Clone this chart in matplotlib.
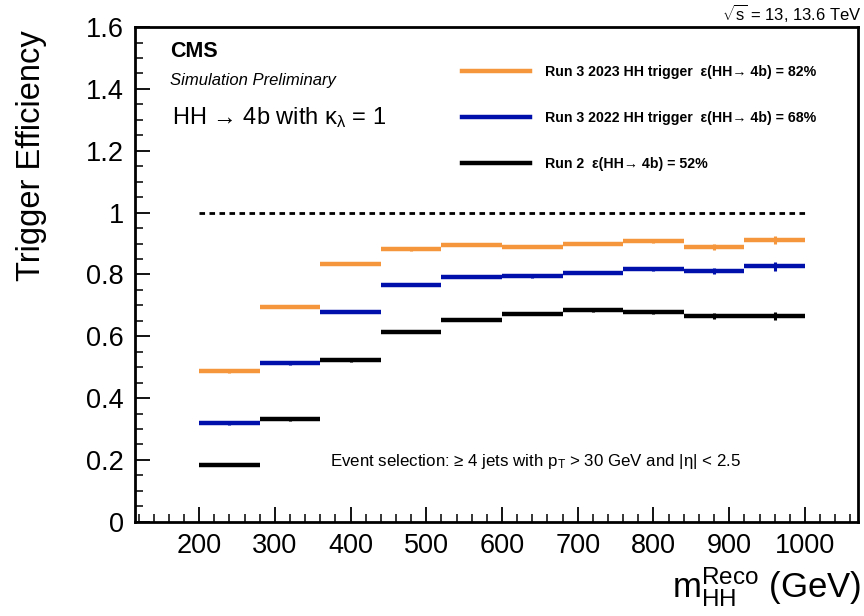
import matplotlib
matplotlib.use('Agg')
import matplotlib.pyplot as plt
import numpy as np
from matplotlib.lines import Line2D
from matplotlib.ticker import MultipleLocator

plt.rcParams['font.family'] = ['Liberation Sans', 'DejaVu Sans']
plt.rcParams['mathtext.fontset'] = 'custom'
plt.rcParams['mathtext.rm'] = 'Liberation Sans'
plt.rcParams['mathtext.it'] = 'Liberation Sans:italic'
plt.rcParams['mathtext.bf'] = 'Liberation Sans:bold'

# binning in m_HH (GeV)
bin_edges = [200, 280, 360, 440, 520, 600, 680, 760, 840, 920, 1000]

# efficiencies
eff_2023 = [0.488, 0.695, 0.835, 0.881, 0.896, 0.890, 0.899, 0.907, 0.890, 0.912]
err_2023 = [0.006, 0.004, 0.004, 0.004, 0.004, 0.004, 0.005, 0.006, 0.010, 0.012]
eff_2022 = [0.318, 0.513, 0.678, 0.767, 0.793, 0.794, 0.806, 0.818, 0.810, 0.826]
err_2022 = [0.006, 0.005, 0.004, 0.004, 0.004, 0.005, 0.006, 0.007, 0.010, 0.015]
eff_run2 = [0.183, 0.331, 0.522, 0.615, 0.654, 0.673, 0.685, 0.678, 0.666, 0.666]
err_run2 = [0.004, 0.004, 0.004, 0.004, 0.004, 0.005, 0.006, 0.007, 0.009, 0.012]

labels = ['Run 3 2023 HH trigger  ε(HH→ 4b) = 82%',
          'Run 3 2022 HH trigger  ε(HH→ 4b) = 68%',
          'Run 2  ε(HH→ 4b) = 52%']
colors = ['#f5963c', '#0010aa', '#000000']

fig = plt.figure(figsize=(8.64, 6.16), dpi=100)
ax = fig.add_axes([0.156, 0.153, 0.837, 0.803])

edges = np.array(bin_edges)
centers = 0.5 * (edges[:-1] + edges[1:])
series = [(eff_2023, err_2023), (eff_2022, err_2022), (eff_run2, err_run2)]
for (vals, errs), c in zip(series, colors):
    ax.hlines(vals, edges[:-1], edges[1:], colors=c, lw=3.2)
    ax.errorbar(centers, vals, yerr=errs, fmt='none', ecolor=c, elinewidth=2.2, capsize=0)

ax.hlines(1.0, edges[0], edges[-1], colors='black', lw=2, linestyles=(0, (2.0, 1.6)))

ax.set_xlim(115, 1070)
ax.set_ylim(0, 1.6)
ax.xaxis.set_minor_locator(MultipleLocator(20))
ax.yaxis.set_minor_locator(MultipleLocator(0.05))
ax.set_xticks([200, 300, 400, 500, 600, 700, 800, 900, 1000])
ax.set_yticks([0, 0.2, 0.4, 0.6, 0.8, 1.0, 1.2, 1.4, 1.6])
ax.set_yticklabels(['0', '0.2', '0.4', '0.6', '0.8', '1', '1.2', '1.4', '1.6'])
ax.tick_params(which='both', direction='in', top=False, right=False, labelsize=19.5)
ax.tick_params(which='major', length=11, width=1.3, pad=8)
ax.tick_params(which='minor', length=5.5, width=1.1)
for s in ax.spines.values():
    s.set_linewidth(2)

ax.set_ylabel('Trigger Efficiency', fontsize=23.5, loc='top')
ax.yaxis.set_label_coords(-0.122, 0.994)
ax.set_xlabel(r'm$_{\mathrm{HH}}^{\mathrm{Reco}}$ (GeV)', fontsize=25, loc='right')
ax.xaxis.set_label_coords(1.005, -0.088)

ax.text(0.049, 0.95, 'CMS', transform=ax.transAxes, fontsize=15.5, fontweight='bold', va='center')
ax.text(0.049, 0.893, 'Simulation Preliminary', transform=ax.transAxes, fontsize=12,
        style='italic', va='center')
ax.text(0.052, 0.818, r'HH → 4b with κ$_{\mathrm{λ}}$ = 1', transform=ax.transAxes,
        fontsize=17, va='center')
ax.text(0.27, 0.121, r'Event selection: ≥ 4 jets with p$_{\mathrm{T}}$ > 30 GeV and |η| < 2.5',
        transform=ax.transAxes, fontsize=12.2, va='center')
fig.text(0.998, 0.996, r'$\sqrt{\mathrm{s}}$ = 13, 13.6 TeV', fontsize=12, ha='right', va='top')

handles = [Line2D([], [], color=c, lw=3.2) for c in colors]
leg = ax.legend(handles, labels, loc='upper left', bbox_to_anchor=(0.452, 0.923),
                frameon=False, borderpad=0, borderaxespad=0, handlelength=4.8,
                handletextpad=1.1, labelspacing=2.25, prop={'size': 10.2, 'weight': 'bold'})

fig.savefig('out.png', dpi=100)
